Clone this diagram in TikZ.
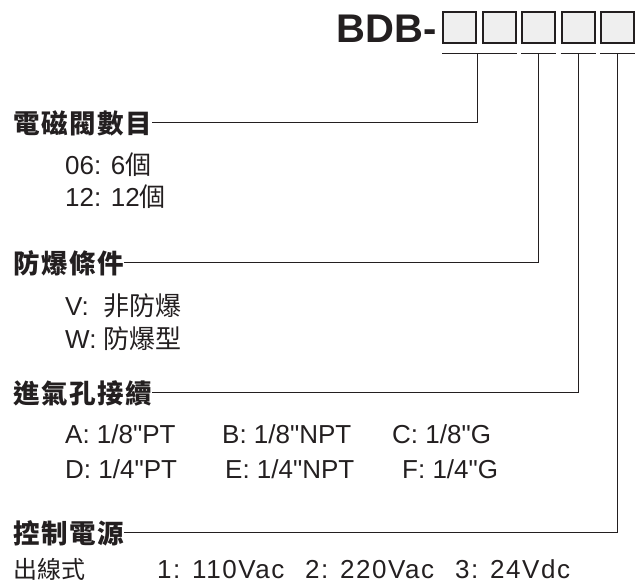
\documentclass[tikz,border=0pt]{standalone}
\usepackage{fontspec}
\setmainfont{Liberation Sans}[Ligatures=TeXOff]
\newfontfamily\cjk{Noto Sans CJK TC}
\newfontfamily\cjkhead[LetterSpace=6]{Noto Sans CJK TC}
\newfontfamily\widefont[LetterSpace=6,Ligatures=TeXOff]{Liberation Sans}
\definecolor{ink}{HTML}{231F20}
\definecolor{cellfill}{HTML}{EFEFEF}
\tikzset{
  head/.style={anchor=base west, inner sep=0pt, text=ink,
    font=\fontsize{26.5}{30}\selectfont\cjkhead\bfseries},
  item/.style={anchor=base west, inner sep=0pt, text=ink,
    font=\fontsize{26}{30}\selectfont},
  cell/.style={draw=ink, line width=2pt, fill=cellfill,
    minimum width=33pt, minimum height=31pt, inner sep=0pt},
  lead/.style={draw=ink, line width=1pt}
}
\begin{document}
\begin{tikzpicture}[x=1pt,y=-1pt]
  \useasboundingbox (0,0) rectangle (637,582);
  \foreach \i in {0,...,4}
    \node[cell] (b\i) at (459.5+39.5*\i,27.5) {};
  \node[anchor=base east, inner sep=0pt, text=ink,
    font=\fontsize{40}{44}\selectfont\bfseries] (bdb) at (437,42) {BDB-};
  \draw[lead] ([yshift=-9pt]b0.south west) -- ([yshift=-9pt]b1.south east);
  \foreach \i in {2,3,4}
    \draw[lead] ([yshift=-9pt]b\i.south west) -- ([yshift=-9pt]b\i.south east);
  \coordinate (u1) at ([yshift=-9pt]b0.south east);
  \coordinate (u2) at ([yshift=-9pt]b2.south);
  \coordinate (u3) at ([yshift=-9pt]b3.south);
  \coordinate (u4) at ([yshift=-9pt]b4.south);
  \node[head] (valves) at (13,133) {電磁閥數目};
  \node[head] (proof) at (13,273) {防爆條件};
  \node[head] (inlet) at (13,403) {進氣孔接續};
  \node[head] (power) at (13,543) {控制電源};
  \draw[lead] (u1) |- ([yshift=11pt]valves.base east);
  \draw[lead] (u2) |- ([yshift=11pt]proof.base east);
  \draw[lead] (u3) |- ([yshift=11pt]inlet.base east);
  \draw[lead] (u4) |- ([yshift=11pt]power.base east);
  \node[item] (n06) at (65,174) {06: 6{\cjk 個}};
  \node[item] (n12) at (65,206) {12: 12{\cjk 個}};
  \node[item] (nv) at (65,315) {V:\ \ {\cjk 非防爆}};
  \node[item] (nw) at (65,348) {W: {\cjk 防爆型}};
  \node[item] (pa) at (65,443) {A: 1/8"PT};
  \node[item] (pb) at (222,443) {B: 1/8"NPT};
  \node[item] (pc) at (392,443) {C: 1/8"G};
  \node[item] (pd) at (65,478) {D: 1/4"PT};
  \node[item] (pe) at (225,478) {E: 1/4"NPT};
  \node[item] (pf) at (402,478) {F: 1/4"G};
  \node[item, font=\fontsize{24}{30}\selectfont\cjk] (wire) at (13,578) {出線式};
  \node[item, font=\fontsize{26}{30}\selectfont\widefont] (v1) at (157,578) {1: 110Vac};
  \node[item, font=\fontsize{26}{30}\selectfont\widefont] (v2) at (305,578) {2: 220Vac};
  \node[item, font=\fontsize{26}{30}\selectfont\widefont] (v3) at (455,578) {3: 24Vdc};
\end{tikzpicture}
\end{document}
